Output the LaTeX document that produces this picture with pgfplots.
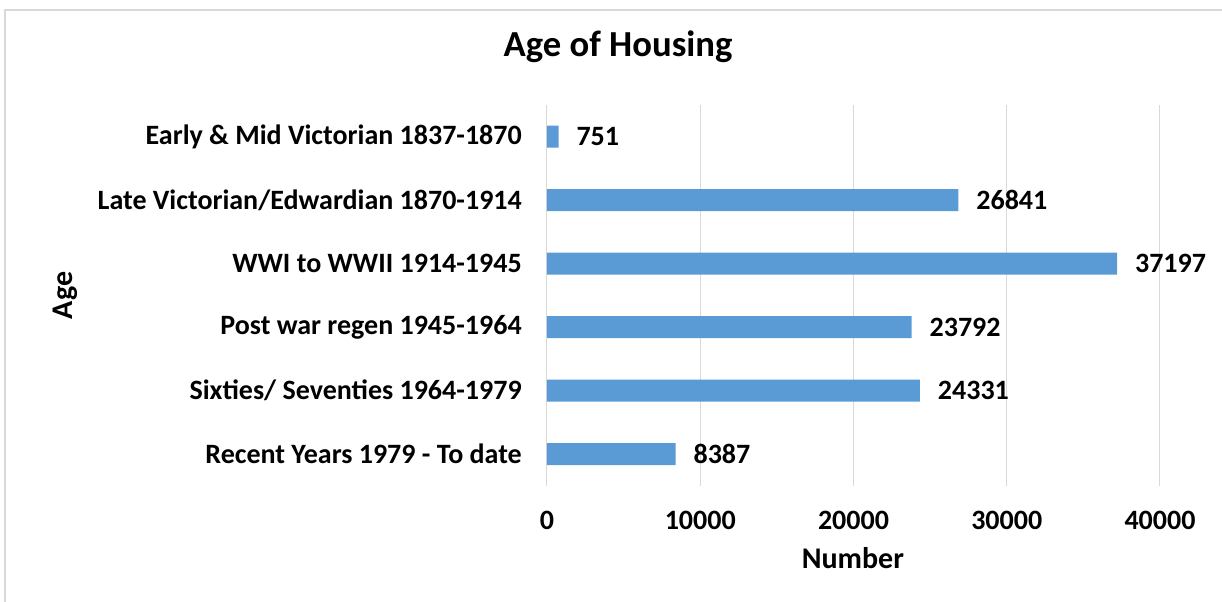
\documentclass[border=0pt]{standalone}
\usepackage{pgfplots}
\pgfplotsset{compat=1.18}
\usepackage{fontspec}
\setmainfont{Carlito}
\definecolor{barblue}{HTML}{5B9BD5}
\definecolor{gridgray}{HTML}{D9D9D9}

\begin{document}
\begin{tikzpicture}
% page frame: 1222 x 602 px at 0.75pt per px
\useasboundingbox (0,0) rectangle (916.5pt,451.5pt);
\draw[gridgray, line width=1.5pt] (3.75pt,-2pt) rectangle (920pt,444pt);
\begin{axis}[
    at={(410.25pt,87pt)}, anchor=south west,
    scale only axis,
    width=459.75pt, height=285.75pt,
    xbar, bar width=16.5pt,
    xmin=0, xmax=40000,
    ymin=-0.5, ymax=5.5,
    xtick={0,10000,20000,30000,40000},
    ytick={0,1,2,3,4,5},
    yticklabels={Recent Years 1979 - To date, Sixties/ Seventies 1964-1979, Post war regen 1945-1964, WWI to WWII 1914-1945, Late Victorian/Edwardian 1870-1914, Early \& Mid Victorian 1837-1870},
    scaled x ticks=false,
    /pgf/number format/assume math mode=true,
    /pgf/number format/.cd, fixed, 1000 sep={}, /pgfplots/.cd,
    axis line style={draw=none},
    major tick length=0pt,
    xmajorgrids, grid style={gridgray, line width=0.75pt},
    yticklabel style={font=\fontsize{21}{25}\selectfont\bfseries, anchor=east, inner sep=0pt, xshift=-18.75pt},
    xticklabel style={font=\fontsize{21}{25}\selectfont\bfseries, anchor=center, inner sep=0pt, yshift=-25.5pt},
    title={Age of Housing},
    title style={font=\fontsize{27.5}{32}\selectfont\bfseries, at={(rel axis cs:0.116,1.131)}, anchor=center},
    xlabel={Number},
    xlabel style={font=\fontsize{22.5}{26}\selectfont\bfseries, at={(rel axis cs:0.499,-0.189)}, anchor=center},
    ylabel={Age},
    ylabel style={font=\fontsize{22.5}{26}\selectfont\bfseries, at={(rel axis cs:-0.786,0.5)}, anchor=center},
    nodes near coords,
    nodes near coords style={font=\fontsize{21}{25}\selectfont\bfseries, black, anchor=west, xshift=10pt},
    point meta=explicit symbolic,
]
\addplot[fill=barblue, draw=none] coordinates {
    (8387,0) [8387]
    (24331,1) [24331]
    (23792,2) [23792]
    (37197,3) [37197]
    (26841,4) [26841]
    (751,5) [751]
};
\end{axis}
\end{tikzpicture}
\end{document}
